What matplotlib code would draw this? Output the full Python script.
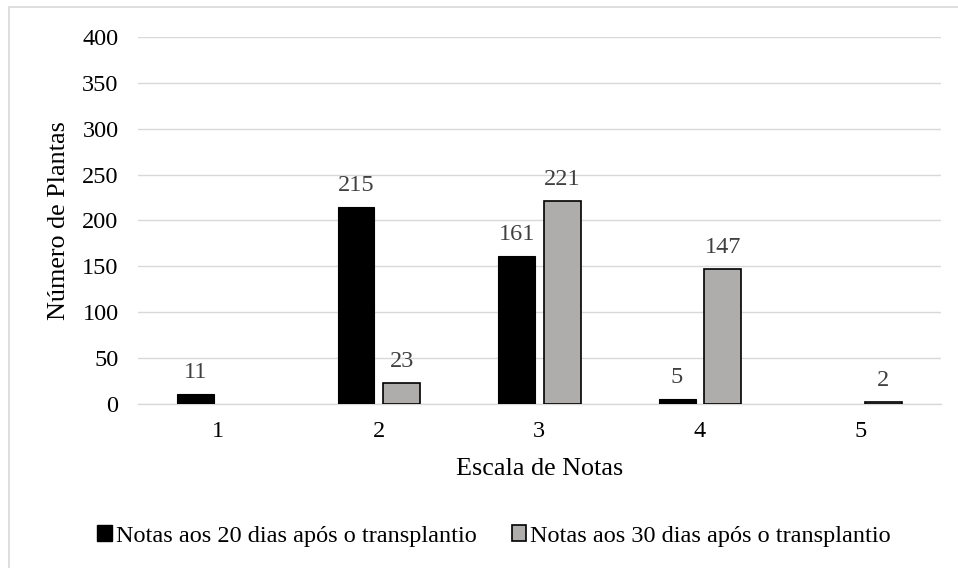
import numpy as np
import matplotlib.pyplot as plt
import matplotlib.patches as mpatches

# Data
categorias = ['1', '2', '3', '4', '5']
notas_20 = [11, 215, 161, 5, 0]
notas_30 = [0, 23, 221, 147, 2]
nome_20 = 'Notas aos 20 dias após o transplantio'
nome_30 = 'Notas aos 30 dias após o transplantio'

# Colours
cor_20 = '#000000'
cor_30 = '#aeadab'
cor_grade = '#d9d9d9'
cor_rotulo = '#404040'

plt.rcParams['font.family'] = ['Liberation Serif', 'DejaVu Serif']
fs = 17.5
fs_titulo = 18.8

fig = plt.figure(figsize=(9.58, 5.68), dpi=100)
ax = fig.add_axes([0.144, 0.2887, 0.838, 0.6462])

# Chart area border (only top/left visible in the reference)
borda = mpatches.Rectangle((9 / 958, -0.1), 1.2, 1 - 7 / 568 + 0.1,
                           transform=fig.transFigure, fill=False,
                           edgecolor=cor_grade, linewidth=1.2, zorder=0)
fig.patches.append(borda)

x = np.arange(len(categorias))
largura = 0.23
desloc = 0.142

v20 = np.array(notas_20, dtype=float)
v30 = np.array(notas_30, dtype=float)
m20 = v20 > 0
m30 = v30 > 0

b1 = ax.bar(x[m20] - desloc, v20[m20], largura, color=cor_20,
            edgecolor=cor_20, linewidth=0.8, zorder=3)
b2 = ax.bar(x[m30] + desloc, v30[m30], largura, color=cor_30,
            edgecolor='black', linewidth=1.2, zorder=3)

# Data labels
for barras in (b1, b2):
    for b in barras:
        ax.annotate(f'{int(b.get_height())}',
                    (b.get_x() + b.get_width() / 2, b.get_height()),
                    xytext=(0, 8), textcoords='offset points',
                    ha='center', va='bottom', fontsize=fs, color=cor_rotulo)

ax.set_xlim(-0.5, len(categorias) - 0.5)
ax.set_ylim(0, 400)
ax.set_yticks(np.arange(0, 401, 50))
ax.set_xticks(x)
ax.set_xticklabels(categorias)
ax.tick_params(axis='both', length=0, labelsize=fs, colors='black')
ax.tick_params(axis='y', pad=14)
ax.tick_params(axis='x', pad=12)

ax.grid(axis='y', color=cor_grade, linewidth=1.0, zorder=0)
ax.set_axisbelow(True)
for lado in ['top', 'right', 'left']:
    ax.spines[lado].set_visible(False)
ax.spines['bottom'].set_color(cor_grade)
ax.spines['bottom'].set_linewidth(1.0)

ax.set_xlabel('Escala de Notas', fontsize=fs_titulo, labelpad=12)
ax.set_ylabel('Número de Plantas', fontsize=fs_titulo, labelpad=9)

# Legend at the bottom
h20 = mpatches.Patch(facecolor=cor_20, edgecolor=cor_20)
h30 = mpatches.Patch(facecolor=cor_30, edgecolor='black', linewidth=1.2)
fig.legend([h20, h30], [nome_20, nome_30], loc='center',
           bbox_to_anchor=(494 / 958, 1 - 536 / 568), ncol=2, frameon=False,
           fontsize=fs, handlelength=0.6, handleheight=0.6,
           handletextpad=0.15, columnspacing=1.45, borderaxespad=0)

fig.savefig('out.png', dpi=100, facecolor='white')
